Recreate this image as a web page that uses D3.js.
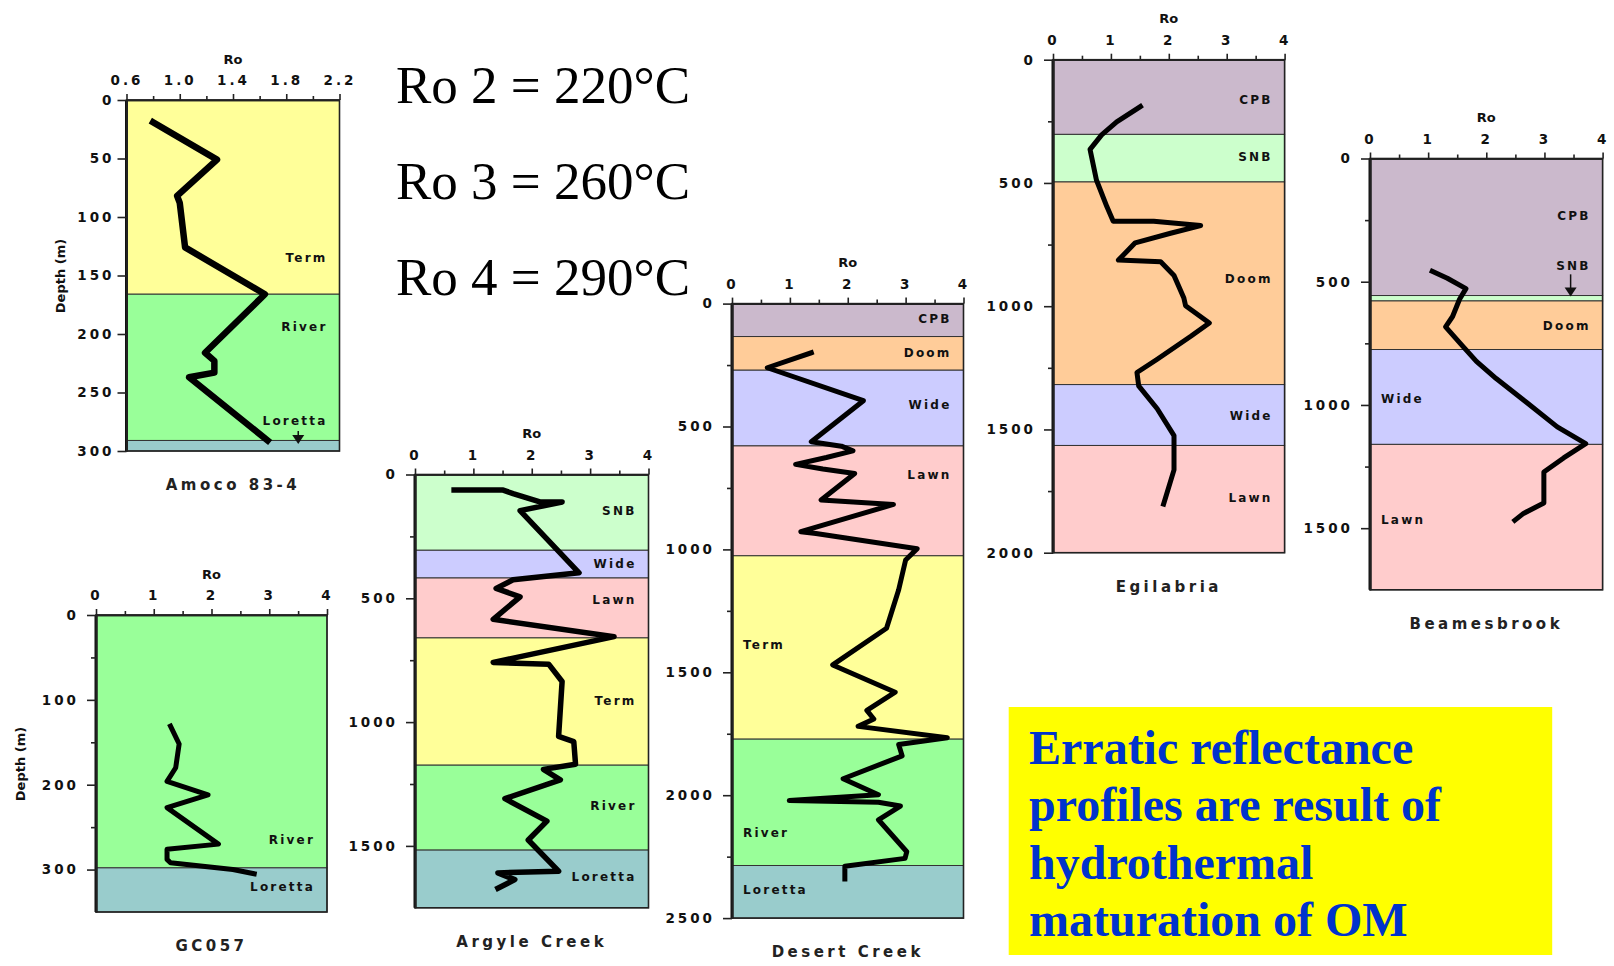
<!DOCTYPE html>
<html>
<head>
<meta charset="utf-8">
<title>Ro profiles</title>
<script src="https://cdn.jsdelivr.net/npm/d3@7"></script>
<style>
  body { margin: 0; background: #fff; }
</style>
</head>
<body>
<svg id="chart" width="1614" height="966"></svg>
<script>
// ---- data ----
// Amoco 83-4
const amocoRo     = [0.80, 1.28, 0.98, 1.00, 1.04, 1.64, 1.19, 1.26, 1.26, 1.07, 1.66];
const amocoDepth  = [19, 51, 82, 88, 126, 166, 216, 223, 233, 237, 291];
const amocoUnits  = ["Term", "River", "Loretta"];
const amocoTops   = [0, 166, 291];
const amocoBases  = [166, 291, 300];

// GC057
const gcRo        = [1.29, 1.44, 1.38, 1.23, 1.94, 1.23, 2.12, 1.23, 1.23, 1.29, 2.37, 2.74];
const gcDepth     = [131, 152, 180, 196, 212, 227, 270, 276, 288, 292, 300, 305];
const gcUnits     = ["River", "Loretta"];
const gcTops      = [0, 298];
const gcBases     = [298, 350];

// Argyle Creek
const argRo       = [0.67, 1.51, 1.68, 2.14, 2.52, 1.80, 2.81, 1.68, 1.39, 1.80, 1.34, 3.41, 1.34, 2.29, 2.52, 2.46, 2.72, 2.75, 2.20, 2.49, 1.54, 2.26, 1.94, 2.46, 1.42, 1.71, 1.42];
const argDepth    = [63, 63, 77, 111, 111, 146, 397, 425, 460, 494, 585, 655, 759, 766, 836, 1058, 1079, 1170, 1191, 1233, 1309, 1400, 1476, 1602, 1609, 1636, 1671];
const argUnits    = ["SNB", "Wide", "Lawn", "Term", "River", "Loretta"];
const argTops     = [0, 306, 418, 660, 1174, 1517];
const argBases    = [306, 418, 660, 1174, 1517, 1750];

// Desert Creek
const desRo       = [1.37, 0.61, 2.27, 1.37, 1.89, 2.09, 1.63, 1.10, 1.57, 2.12, 1.54, 2.79, 1.19, 1.45, 3.20, 3.00, 2.88, 2.67, 1.74, 2.82, 2.33, 2.45, 2.18, 3.72, 2.88, 2.94, 1.92, 2.53, 0.99, 2.53, 2.91, 2.53, 3.02, 2.99, 1.95, 1.95];
const desDepth    = [200, 261, 395, 562, 580, 599, 626, 654, 673, 691, 799, 817, 928, 935, 997, 1043, 1164, 1321, 1470, 1581, 1655, 1690, 1720, 1766, 1794, 1840, 1933, 1998, 2022, 2029, 2044, 2100, 2230, 2257, 2289, 2341];
const desUnits    = ["CPB", "Doom", "Wide", "Lawn", "Term", "River", "Loretta"];
const desTops     = [0, 134, 271, 579, 1026, 1772, 2286];
const desBases    = [134, 271, 579, 1026, 1772, 2286, 2500];

// Egilabria
const egiRo       = [1.51, 1.10, 0.84, 0.64, 0.75, 0.93, 1.04, 1.74, 2.55, 2.03, 1.42, 1.13, 1.86, 2.09, 2.26, 2.29, 2.70, 2.38, 1.80, 1.45, 1.48, 1.80, 2.09, 2.09, 1.91];
const egiDepth    = [190, 252, 305, 364, 488, 596, 655, 655, 673, 704, 743, 813, 820, 875, 967, 998, 1068, 1122, 1215, 1269, 1323, 1416, 1525, 1664, 1803];
const egiUnits    = ["CPB", "SNB", "Doom", "Wide", "Lawn"];
const egiTops     = [0, 303, 496, 1318, 1565];
const egiBases    = [303, 496, 1318, 1565, 2000];

// Beamesbrook
const beaRo       = [1.07, 1.33, 1.65, 1.54, 1.42, 1.30, 1.59, 1.83, 2.17, 2.70, 3.22, 3.71, 3.33, 2.99, 2.99, 2.64, 2.49];
const beaDepth    = [458, 486, 528, 571, 641, 683, 760, 823, 893, 991, 1089, 1157, 1215, 1272, 1398, 1440, 1468];
const beaUnits    = ["CPB", "SNB", "Doom", "Wide", "Lawn"];
const beaTops     = [0, 556, 578, 775, 1160];
const beaBases    = [556, 578, 775, 1160, 1750];

// axis ticks
const roTicks     = [0, 1, 2, 3, 4];
const roMinor     = [0.5, 1.5, 2.5, 3.5];
const amocoRoTicks = [0.6, 1.0, 1.4, 1.8, 2.2];
const amocoRoMinor = [0.8, 1.2, 1.6, 2.0];

const tempNotes = ["Ro 2 = 220°C", "Ro 3 = 260°C", "Ro 4 = 290°C"];
const noteLines = ["Erratic reflectance", "profiles are result of", "hydrothermal", "maturation of OM"];

const unitColor = {
  CPB: "#cbb9cc", SNB: "#ccffcc", Doom: "#ffcc99", Wide: "#ccccff",
  Lawn: "#ffcccc", Term: "#ffff99", River: "#99ff99", Loretta: "#99cccc"
};

const sans = "DejaVu Sans, sans-serif";
const serif = "'Liberation Serif', 'Times New Roman', serif";

// ---- layout per well ----
const wells = [
  { name: "Amoco 83-4", ro: amocoRo, depth: amocoDepth, units: amocoUnits, tops: amocoTops, bases: amocoBases,
    xDom: [0.6, 2.2], xT: amocoRoTicks, xM: amocoRoMinor, fmt: d3.format(".1f"),
    yDom: [0, 300], yT: d3.range(0, 301, 50), yM: [], yPad: 3,
    box: [126.5, 100, 213, 351], lw: 6.5, depthLabel: [60, 276],
    lblDepth: [135, 194, 274], lblSide: ["r", "r", "r"], arrow: [1.89, 283, 294] },
  { name: "GC057", ro: gcRo, depth: gcDepth, units: gcUnits, tops: gcTops, bases: gcBases,
    xDom: [0, 4], xT: roTicks, xM: roMinor, fmt: d3.format("d"),
    yDom: [0, 350], yT: [0, 100, 200, 300], yM: [50, 150, 250], yPad: 8,
    box: [96, 615, 231, 297], lw: 5, depthLabel: [20, 764],
    lblDepth: [265, 320], lblSide: ["r", "r"] },
  { name: "Argyle Creek", ro: argRo, depth: argDepth, units: argUnits, tops: argTops, bases: argBases,
    xDom: [0, 4], xT: roTicks, xM: roMinor, fmt: d3.format("d"),
    yDom: [0, 1750], yT: [0, 500, 1000, 1500], yM: [250, 750, 1250], yPad: 8,
    box: [415, 474.5, 233.5, 433.3], lw: 5.5,
    lblDepth: [145, 361, 507, 915, 1339, 1625], lblSide: ["r", "r", "r", "r", "r", "r"] },
  { name: "Desert Creek", ro: desRo, depth: desDepth, units: desUnits, tops: desTops, bases: desBases,
    xDom: [0, 4], xT: roTicks, xM: roMinor, fmt: d3.format("d"),
    yDom: [0, 2500], yT: d3.range(0, 2501, 500), yM: [250, 750, 1250, 1750, 2250], yPad: 8,
    box: [732, 303.6, 231.5, 614.5], lw: 5,
    lblDepth: [63, 201, 410, 695, 1390, 2153, 2386], lblSide: ["r", "r", "r", "r", "l", "l", "l"] },
  { name: "Egilabria", ro: egiRo, depth: egiDepth, units: egiUnits, tops: egiTops, bases: egiBases,
    xDom: [0, 4], xT: roTicks, xM: roMinor, fmt: d3.format("d"),
    yDom: [0, 2000], yT: d3.range(0, 2001, 500), yM: [250, 750, 1250, 1750], yPad: 8,
    box: [1053, 59.7, 231.6, 493], lw: 5,
    lblDepth: [163, 393, 890, 1445, 1778], lblSide: ["r", "r", "r", "r", "r"] },
  { name: "Beamesbrook", ro: beaRo, depth: beaDepth, units: beaUnits, tops: beaTops, bases: beaBases,
    xDom: [0, 4], xT: roTicks, xM: roMinor, fmt: d3.format("d"),
    yDom: [0, 1750], yT: [0, 500, 1000, 1500], yM: [250, 750, 1250], yPad: 8,
    box: [1370, 158.5, 232.6, 431.3], lw: 5,
    lblDepth: [233, 434, 677, 973, 1467], lblSide: ["r", "r", "r", "l", "l"], arrow: [3.45, 470, 560] }
];

const svg = d3.select("#chart");
svg.append("rect").attr("width", 1614).attr("height", 966).attr("fill", "#fff");

wells.forEach(w => {
  const [bx, by, bw, bh] = w.box;
  const x = d3.scaleLinear().domain(w.xDom).range([bx, bx + bw]);
  const y = d3.scaleLinear().domain(w.yDom).range([by, by + bh]);
  const g = svg.append("g");

  // formation bands
  g.selectAll("rect.unit").data(w.units).enter().append("rect")
    .attr("x", x(w.xDom[0])).attr("width", x(w.xDom[1]) - x(w.xDom[0]))
    .attr("y", (d, i) => y(w.tops[i]))
    .attr("height", (d, i) => y(w.bases[i]) - y(w.tops[i]))
    .attr("fill", d => unitColor[d]).attr("stroke", "#333").attr("stroke-width", 1);

  // formation names
  g.selectAll("text.unit").data(w.units).enter().append("text")
    .attr("x", (d, i) => w.lblSide[i] == "r" ? x(w.xDom[1]) - 12 : x(w.xDom[0]) + 11)
    .attr("y", (d, i) => y(w.lblDepth[i]))
    .attr("dy", "0.35em")
    .attr("text-anchor", (d, i) => w.lblSide[i] == "r" ? "end" : "start")
    .attr("font-family", sans)
    .attr("font-size", 12).attr("font-weight", "bold").attr("letter-spacing", 2.2)
    .attr("fill", "#111")
    .text(d => d);

  if (w.arrow) {
    const [ax, a0, a1] = w.arrow;
    g.append("line").attr("x1", x(ax)).attr("x2", x(ax)).attr("y1", y(a0)).attr("y2", y(a1) - 4)
      .attr("stroke", "#111").attr("stroke-width", 1.5);
    g.append("path")
      .attr("d", `M${x(ax) - 6},${y(a1) - 9}L${x(ax) + 6},${y(a1) - 9}L${x(ax)},${y(a1)}Z`)
      .attr("fill", "#111");
  }

  // Ro profile
  const line = d3.line().x(d => x(d[0])).y(d => y(d[1]));
  g.append("path").datum(d3.zip(w.ro, w.depth))
    .attr("d", line).attr("fill", "none").attr("stroke", "#000")
    .attr("stroke-width", w.lw).attr("stroke-linejoin", "round").attr("stroke-linecap", "square");

  // frame
  g.append("rect").attr("x", bx).attr("y", by).attr("width", bw).attr("height", bh)
    .attr("fill", "none").attr("stroke", "#222").attr("stroke-width", 1.6);
  g.append("line").attr("x1", bx).attr("x2", bx).attr("y1", by).attr("y2", by + bh)
    .attr("stroke", "#111").attr("stroke-width", 3);

  // top axis (Ro)
  g.append("g").attr("transform", `translate(0,${by})`)
    .call(d3.axisTop(x).tickValues(w.xT).tickSize(6).tickSizeOuter(0).tickPadding(9).tickFormat(w.fmt));
  g.append("g").attr("transform", `translate(0,${by})`)
    .call(d3.axisTop(x).tickValues(w.xM).tickSize(4).tickSizeOuter(0).tickFormat(""));
  // left axis (depth)
  g.append("g").attr("transform", `translate(${bx},0)`)
    .call(d3.axisLeft(y).tickValues(w.yT).tickSize(9).tickSizeOuter(0).tickPadding(w.yPad).tickFormat(d3.format("d")));
  g.append("g").attr("transform", `translate(${bx},0)`)
    .call(d3.axisLeft(y).tickValues(w.yM).tickSize(5).tickSizeOuter(0).tickFormat(""));

  g.selectAll(".domain").attr("stroke", "#222").attr("stroke-width", 1.6);
  g.selectAll(".tick line").attr("stroke", "#222").attr("stroke-width", 1.6);
  g.selectAll(".tick text")
    .attr("font-family", sans).attr("font-size", 13.5)
    .attr("font-weight", "bold").attr("letter-spacing", 3).attr("fill", "#111");

  // axis titles
  g.append("text").attr("x", bx + bw / 2).attr("y", by - 41).attr("dy", "0.35em")
    .attr("text-anchor", "middle").attr("font-family", sans).attr("font-size", 13).attr("font-weight", "bold")
    .attr("fill", "#111").text("Ro");
  if (w.depthLabel) {
    g.append("text").attr("transform", `translate(${w.depthLabel[0]},${w.depthLabel[1]}) rotate(-90)`)
      .attr("dy", "0.35em").attr("text-anchor", "middle").attr("font-family", sans).attr("font-size", 13)
      .attr("font-weight", "bold").attr("fill", "#111").text("Depth (m)");
  }
  g.append("text").attr("x", bx + bw / 2).attr("y", by + bh + 34).attr("dy", "0.35em")
    .attr("text-anchor", "middle").attr("font-family", sans).attr("font-size", 15).attr("font-weight", "bold")
    .attr("letter-spacing", 3.5).attr("fill", "#222").text(w.name);
});

// temperature equivalents
svg.selectAll("text.note").data(tempNotes).enter().append("text")
  .attr("x", 396).attr("y", (d, i) => 103 + i * 96)
  .attr("font-family", serif)
  .attr("font-size", 53).attr("fill", "#000").text(d => d);

// yellow call-out
svg.append("rect").attr("x", 1008.7).attr("y", 707).attr("width", 543.5).attr("height", 248)
  .attr("fill", "#ffff00");
svg.selectAll("text.callout").data(noteLines).enter().append("text")
  .attr("x", 1029).attr("y", (d, i) => 764 + i * 57.3)
  .attr("font-family", serif)
  .attr("font-size", 48).attr("font-weight", "bold").attr("fill", "#0033cc").text(d => d);
</script>
</body>
</html>
